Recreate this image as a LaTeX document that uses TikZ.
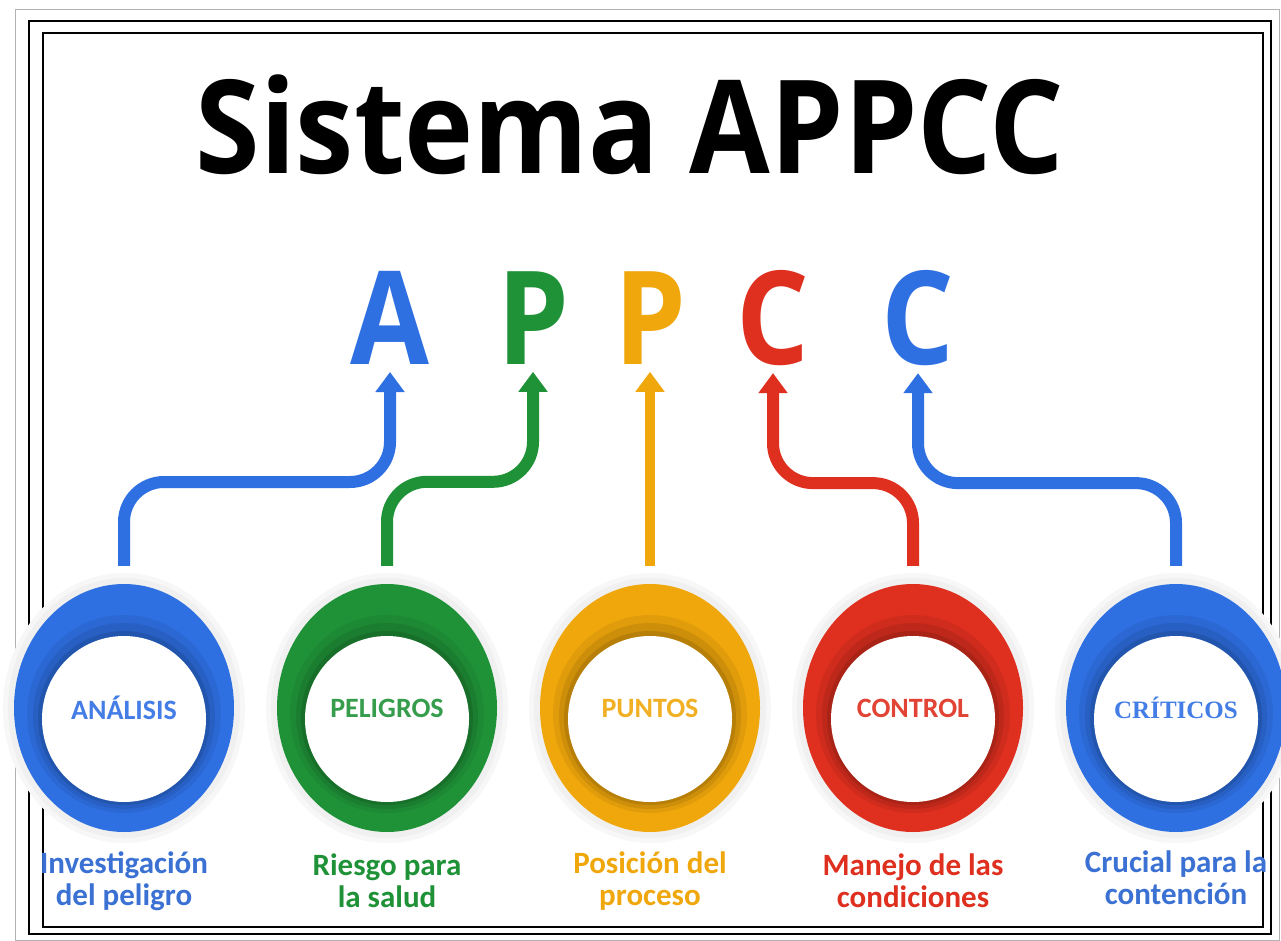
\documentclass[tikz,border=0pt]{standalone}
\usepackage{fontspec}
\setmainfont{Carlito}
\newfontfamily\headfont{Open Sans}[FakeStretch=0.9]
\newfontfamily\letterfont{Open Sans}[FakeStretch=0.88]
\newfontfamily\critfont{Liberation Serif}
\usetikzlibrary{positioning,shapes.geometric,arrows.meta}
\definecolor{appblue}{HTML}{2E6FE2}
\definecolor{appgreen}{HTML}{1F9238}
\definecolor{appyellow}{HTML}{EFA70C}
\definecolor{appred}{HTML}{DE2F1F}
\tikzset{
  ring/.style={
    ellipse, inner sep=0pt,
    minimum width=220pt, minimum height=248pt,
    fill=#1, text=#1!90!white,
    font=\fontsize{28}{30}\selectfont\bfseries,
    preaction={draw=black!3, line width=22pt},
    preaction={draw=black!6, line width=12pt},
    path picture={
      \fill[#1!50!black, opacity=.12] ([yshift=-6pt]path picture bounding box.center) ellipse (97pt and 99pt);
      \fill[#1!50!black, opacity=.18] ([yshift=-8pt]path picture bounding box.center) ellipse (91pt and 93pt);
      \fill[#1!50!black, opacity=.25] ([yshift=-10pt]path picture bounding box.center) ellipse (86pt and 87pt);
      \fill[white] ([yshift=-11pt]path picture bounding box.center) ellipse (82pt and 83pt);
    }
  },
  letter/.style={
    text=#1, inner sep=0pt, anchor=south,
    font=\letterfont\bfseries\fontsize{130}{130}\selectfont
  },
  link/.style={
    draw=#1, line width=12pt, rounded corners=40pt,
    -{Triangle[length=20pt,width=28pt]}
  },
  caption/.style={
    text=#1, align=center, inner sep=0pt,
    font=\fontsize{31}{32}\selectfont\bfseries
  }
}

\begin{document}
\begin{tikzpicture}[x=1pt, y=1pt]
  \useasboundingbox[fill=white] (0,0) rectangle (1281,-941);
  % frame
  \draw[gray!60, line width=1pt] (15,-10) rectangle (1279,-940);
  \draw[line width=1.2pt] (29,-21) rectangle (1271,-934);
  \draw[line width=1.2pt] (43,-33) rectangle (1263,-927);

  \node[font=\headfont\bfseries\fontsize{130}{130}\selectfont] (title) at (630,-125) {Sistema APPCC};

  % letters
  \node[letter=appblue] (lA) at (390,-365) {A};
  \node[letter=appgreen, on grid, right=143pt of lA] (lP) {P};
  \node[letter=appyellow, on grid, right=117pt of lP] (lPb) {P};
  \node[letter=appred, on grid, right=123pt of lPb] (lC) {C};
  \node[letter=appblue, on grid, right=145pt of lC] (lCb) {C};

  % rings
  \node[ring=appblue] (ana) at (124,-708) {ANÁLISIS};
  \node[ring=appgreen, on grid, right=263pt of ana] (pel) {PELIGROS};
  \node[ring=appyellow, on grid, right=263pt of pel] (pun) {PUNTOS};
  \node[ring=appred, on grid, right=263pt of pun] (con) {CONTROL};
  \node[ring=appblue, on grid, right=263pt of con, font=\critfont\fontsize{25}{27}\selectfont\bfseries] (cri) {CRÍTICOS};

  % captions
  \node[caption=appblue!85!gray, on grid, below=173pt of ana] (capA) {Investigación\\del peligro};
  \node[caption=appgreen, on grid, below=173pt of pel] (capP) {Riesgo para\\la salud};
  \node[caption=appyellow, on grid, below=173pt of pun] (capPb) {Posición del\\proceso};
  \node[caption=appred, on grid, below=173pt of con] (capC) {Manejo de las\\condiciones};
  \node[caption=appblue!85!gray, on grid, below=170pt of cri] (capCb) {Crucial para la\\contención};

  % arrows
  \draw[link=appblue] ([yshift=18pt]ana.north) |- ([yshift=-117pt]lA.south) -- ([yshift=-7pt]lA.south);
  \draw[link=appgreen] ([yshift=18pt]pel.north) |- ([yshift=-117pt]lP.south) -- ([yshift=-7pt]lP.south);
  \draw[link=appyellow, line width=10pt] ([yshift=18pt]pun.north) -- ([yshift=-7pt]lPb.south);
  \draw[link=appred] ([yshift=18pt]con.north) |- ([yshift=-117pt]lC.south) -- ([yshift=-7pt]lC.south);
  \draw[link=appblue] ([yshift=18pt]cri.north) |- ([yshift=-117pt]lCb.south) -- ([yshift=-7pt]lCb.south);
\end{tikzpicture}
\end{document}
